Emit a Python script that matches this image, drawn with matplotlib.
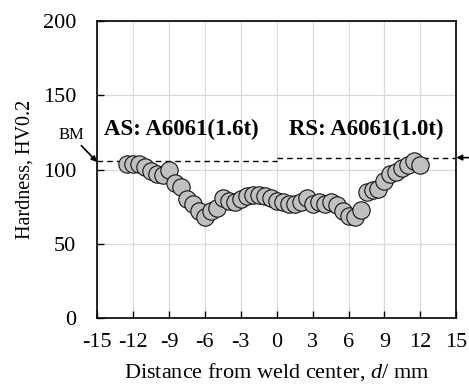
import matplotlib
matplotlib.use("Agg")
import matplotlib.pyplot as plt
import numpy as np

plt.rcParams["font.family"] = ["Liberation Serif", "DejaVu Serif"]
plt.rcParams["mathtext.fontset"] = "custom"
plt.rcParams["mathtext.rm"] = "Liberation Serif"
plt.rcParams["mathtext.it"] = "Liberation Serif:italic"
plt.rcParams["axes.unicode_minus"] = False

# hardness profile across the weld
distance = [-12.5, -12.0, -11.5, -11.0, -10.5, -10.0, -9.5, -9.0, -8.5, -8.0,
            -7.5, -7.0, -6.5, -6.0, -5.5, -5.0, -4.5, -4.0, -3.5, -3.0,
            -2.5, -2.0, -1.5, -1.0, -0.5, 0.0, 0.5, 1.0, 1.5, 2.0,
            2.5, 3.0, 3.5, 4.0, 4.5, 5.0, 5.5, 6.0, 6.5, 7.0,
            7.5, 8.0, 8.5, 9.0, 9.5, 10.0, 10.5, 11.0, 11.5, 12.0]
hardness = [104, 104, 104, 102, 99, 97, 96, 100, 91, 88,
            80, 77, 72, 68, 72, 74, 81, 79, 78, 80,
            82, 83, 83, 82, 81, 79, 78, 77, 77, 78,
            81, 77, 78, 77, 78, 76, 72, 69, 68, 73,
            85, 86, 87, 92, 97, 98, 101, 103, 106, 103]

bm_as = 106   # base metal hardness, advancing side
bm_rs = 108   # base metal hardness, retreating side

fig = plt.figure(figsize=(4.69, 3.87), dpi=100)
ax = fig.add_axes([0.207, 0.178, 0.766, 0.768])

ax.grid(True, color="#d9d9d9", linewidth=0.9, zorder=0)
ax.set_axisbelow(True)

ax.plot([-15, 0], [bm_as, bm_as], "k--", linewidth=1.0, dashes=(4, 3), zorder=2)
ax.plot([0, 15], [bm_rs, bm_rs], "k--", linewidth=1.0, dashes=(4, 3), zorder=2)

ax.plot(distance, hardness, linestyle="none", marker="o", markersize=12.5,
        markerfacecolor="#c0c0c0", markeredgecolor="#111111",
        markeredgewidth=0.8, zorder=3)

ax.text(-14.4, 127, "AS: A6061(1.6t)", fontsize=16.5, fontweight="bold",
        va="center", ha="left")
ax.text(1.0, 127, "RS: A6061(1.0t)", fontsize=16.5, fontweight="bold",
        va="center", ha="left")

ax.annotate("BM", xy=(-15, bm_as - 1), xytext=(-16.1, 118),
            fontsize=12, ha="right", va="bottom", annotation_clip=False,
            arrowprops=dict(arrowstyle="-|>", color="k", lw=1.2,
                            mutation_scale=8, shrinkA=0, shrinkB=0))
ax.annotate("", xy=(15, bm_rs), xytext=(16.2, bm_rs),
            annotation_clip=False,
            arrowprops=dict(arrowstyle="-|>", color="k", lw=1.2,
                            mutation_scale=8, shrinkA=0, shrinkB=0))

ax.set_xlim(-15, 15)
ax.set_ylim(0, 200)
ax.set_xticks(np.arange(-15, 16, 3))
ax.set_yticks([0, 50, 100, 150, 200])
ax.tick_params(direction="in", labelsize=16, length=5, width=1)
ax.tick_params(axis="x", pad=11)
ax.tick_params(axis="y", pad=15)
ax.set_xlabel(r"Distance from weld center, $\mathit{d}$/ mm", fontsize=16,
              labelpad=6)
ax.set_ylabel("Hardness, HV0.2", fontsize=14.5, labelpad=6)
for s in ax.spines.values():
    s.set_linewidth(1.2)

fig.savefig("out.png", dpi=100)
